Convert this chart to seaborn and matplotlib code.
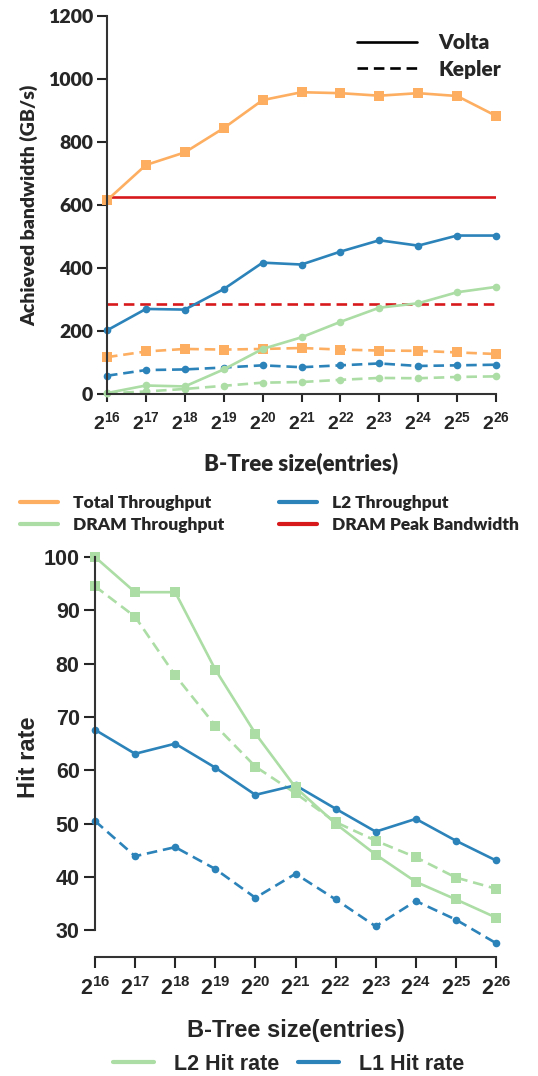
import numpy as np
import pandas as pd
import matplotlib
matplotlib.use("Agg")
import matplotlib.pyplot as plt
from matplotlib.lines import Line2D
import seaborn as sns

# ---------------- data ----------------
exponents = [16, 17, 18, 19, 20, 21, 22, 23, 24, 25, 26]
tick_labels = [f"$\\mathbf{{2^{{{e}}}}}$" for e in exponents]

total_volta = [615, 727, 767, 844, 933, 958, 955, 947, 955, 946, 883]
l2_volta = [202, 270, 268, 333, 417, 411, 452, 488, 471, 503, 503]
dram_volta = [3, 27, 24, 78, 143, 180, 229, 274, 288, 323, 340]
total_kepler = [117, 135, 143, 141, 143, 146, 141, 138, 137, 132, 127]
l2_kepler = [58, 76, 78, 84, 91, 85, 91, 97, 89, 91, 93]
dram_kepler = [2, 8, 16, 26, 36, 38, 45, 51, 50, 54, 56]
peak_volta = 625
peak_kepler = 287

l2hit_volta = [100, 93.4, 93.4, 78.9, 66.9, 56.8, 50.0, 44.2, 39.1, 35.8, 32.4]
l2hit_kepler = [94.5, 88.8, 77.8, 68.4, 60.7, 55.7, 50.3, 46.8, 43.7, 39.9, 37.8]
l1hit_volta = [67.6, 63.1, 65.0, 60.5, 55.4, 57.2, 52.8, 48.5, 50.9, 46.8, 43.1]
l1hit_kepler = [50.5, 43.9, 45.6, 41.5, 36.1, 40.6, 35.8, 30.75, 35.5, 32.0, 27.6]

# ---------------- style ----------------
sns.set_theme(style="ticks")
TOPFONT = ["Lato", "DejaVu Sans"]
BOTFONT = ["Liberation Sans", "DejaVu Sans"]
TOPW = "heavy"
plt.rcParams["font.family"] = TOPFONT
plt.rcParams["font.weight"] = "bold"
plt.rcParams["mathtext.fontset"] = "custom"
plt.rcParams["mathtext.rm"] = "Liberation Sans:bold"
plt.rcParams["mathtext.bf"] = "Liberation Sans:bold"
plt.rcParams["axes.linewidth"] = 1.5
plt.rcParams["xtick.major.width"] = 1.5
plt.rcParams["ytick.major.width"] = 1.5
plt.rcParams["axes.edgecolor"] = "#333333"

ORANGE = "#fdae61"
GREEN = "#abdda4"
BLUE = "#2b83ba"
RED = "#d7191c"
DASH = (4, 2.2)
LW = 1.9

fig = plt.figure(figsize=(5.38, 10.76), dpi=100)


def draw(ax, y, color, marker, ms, dashed):
    sns.lineplot(x=exponents, y=y, ax=ax, color=color, marker=marker,
                 markersize=ms, markeredgewidth=0, linewidth=LW,
                 clip_on=False, legend=False)
    line = ax.get_lines()[-1]
    if dashed:
        line.set_dashes(DASH)
    return line


# ---------------- top chart ----------------
ax1 = fig.add_axes([107 / 538, 1 - 394 / 1076, (496 - 107) / 538, (394 - 16) / 1076])

draw(ax1, dram_kepler, GREEN, "o", 5.5, True)
draw(ax1, l2_kepler, BLUE, "o", 5.5, True)
draw(ax1, total_kepler, ORANGE, "s", 6.5, True)
ax1.axhline(peak_kepler, color=RED, linewidth=LW, dashes=DASH)
ax1.axhline(peak_volta, color=RED, linewidth=LW)
draw(ax1, dram_volta, GREEN, "o", 5.5, False)
draw(ax1, l2_volta, BLUE, "o", 5.5, False)
draw(ax1, total_volta, ORANGE, "s", 6.5, False)

ax1.set_xlim(16, 26)
ax1.set_ylim(0, 1200)
ax1.set_yticks([0, 200, 400, 600, 800, 1000, 1200])
ax1.set_xticks(exponents)
ax1.set_xticklabels(tick_labels)
ax1.tick_params(axis="x", labelsize=14, length=6, pad=6)
ax1.tick_params(axis="y", labelsize=14, length=7, pad=3)
for lab in ax1.get_yticklabels():
    lab.set_fontweight(TOPW)
ax1.set_ylabel("Achieved bandwidth (GB/s)", fontsize=14, fontweight=TOPW, labelpad=7)
ax1.set_xlabel("B-Tree size(entries)", fontsize=16, fontweight=TOPW, labelpad=14)
sns.despine(ax=ax1)

gen_handles = [Line2D([], [], color="black", lw=LW),
               Line2D([], [], color="black", lw=LW, dashes=DASH)]
ax1.legend(gen_handles, ["Volta", "Kepler"], loc="center left",
           bbox_to_anchor=(338 / 538, 1 - 56 / 1076), bbox_transform=fig.transFigure,
           frameon=False, handlelength=2.9, handletextpad=1.0,
           labelspacing=0.35, prop={"weight": TOPW, "size": 15})

col_handles = [Line2D([], [], color=ORANGE, lw=3),
               Line2D([], [], color=GREEN, lw=3),
               Line2D([], [], color=BLUE, lw=3),
               Line2D([], [], color=RED, lw=3)]
fig.legend(col_handles, ["Total Throughput", "DRAM Throughput", "L2 Throughput",
                         "DRAM Peak Bandwidth"],
           ncol=2, loc="center left", bbox_to_anchor=(4 / 538, 1 - 514 / 1076),
           frameon=False, handlelength=2.2, handletextpad=0.9, columnspacing=3.1,
           labelspacing=0.3, prop={"weight": TOPW, "size": 12.5})

# ---------------- bottom chart ----------------
ax2 = fig.add_axes([95 / 538, 1 - 957 / 1076, (496 - 95) / 538, (957 - 557) / 1076])
draw(ax2, l1hit_kepler, BLUE, "o", 5.5, True)
draw(ax2, l2hit_kepler, GREEN, "s", 6.5, True)
draw(ax2, l1hit_volta, BLUE, "o", 5.5, False)
draw(ax2, l2hit_volta, GREEN, "s", 6.5, False)
ax2.set_xlim(16, 26)
ax2.set_ylim(25, 100)
ax2.set_yticks([30, 40, 50, 60, 70, 80, 90, 100])
ax2.spines["left"].set_bounds(30, 100)
ax2.set_xticks(exponents)
ax2.set_xticklabels(tick_labels)
ax2.tick_params(axis="x", labelsize=15.5, length=8, pad=6)
ax2.tick_params(axis="y", labelsize=15.5, length=8, pad=3)
for lab in ax2.get_yticklabels():
    lab.set_fontfamily(BOTFONT)
    lab.set_fontweight("bold")
ax2.set_ylabel("Hit rate", fontsize=17, fontweight="bold", fontfamily=BOTFONT, labelpad=3)
ax2.set_xlabel("B-Tree size(entries)", fontsize=17, fontweight="bold",
               fontfamily=BOTFONT, labelpad=14)
sns.despine(ax=ax2)

hr_handles = [Line2D([], [], color=GREEN, lw=3), Line2D([], [], color=BLUE, lw=3)]
fig.legend(hr_handles, ["L2 Hit rate", "L1 Hit rate"], ncol=2, loc="center left",
           bbox_to_anchor=(94 / 538, 1 - 1064 / 1076), frameon=False,
           handlelength=1.9, handletextpad=0.9, columnspacing=0.9,
           prop={"weight": "bold", "size": 15.5, "family": BOTFONT})

fig.savefig("out.png", dpi=100)
